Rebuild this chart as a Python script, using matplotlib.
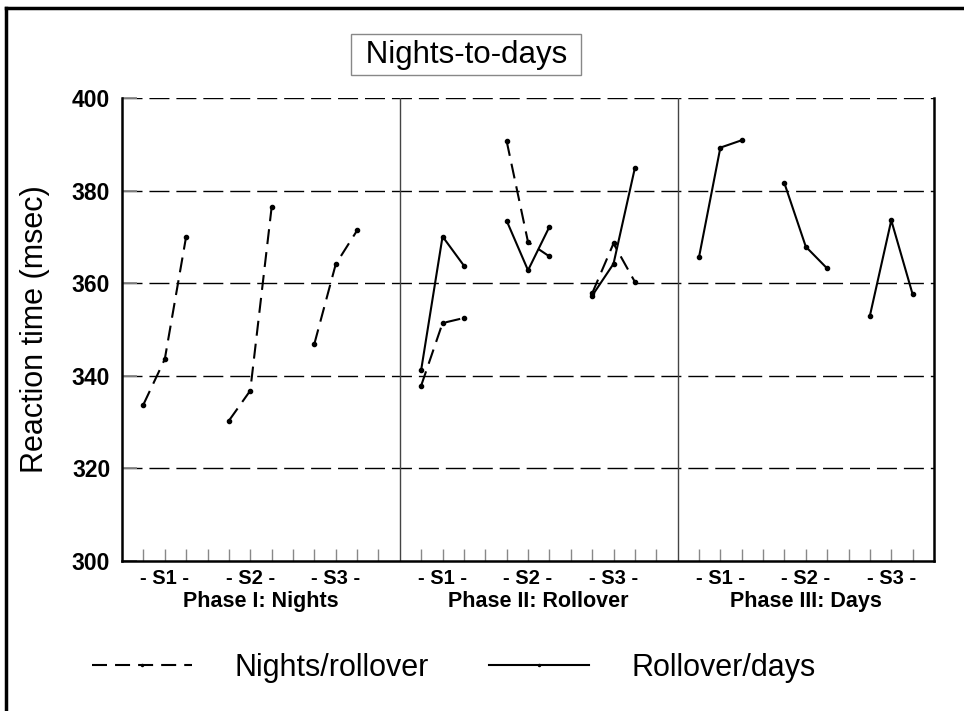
"""Nights-to-days reaction time chart across three shift phases."""

import matplotlib.pyplot as plt
from matplotlib.lines import Line2D

plt.rcParams["font.family"] = ["Liberation Sans", "DejaVu Sans"]
plt.rcParams["lines.scale_dashes"] = False

PHASES = ["Phase I: Nights", "Phase II: Rollover", "Phase III: Days"]
SESSIONS = ["- S1 -", "- S2 -", "- S3 -"]
SERIES = ["Nights/rollover", "Rollover/days"]

# reaction time (msec), three trials per session
NIGHTS_ROLLOVER = {
    0: [[333.8, 343.6, 370.1], [330.3, 336.8, 376.4], [346.9, 364.1, 371.4]],
    1: [[337.9, 351.4, 352.5], [390.7, 368.9, 365.8], [357.8, 368.6, 360.3]],
}
ROLLOVER_DAYS = {
    1: [[341.3, 370.1, 363.8], [373.5, 362.8, 372.2], [357.3, 364.2, 384.9]],
    2: [[365.6, 389.3, 390.9], [381.6, 367.9, 363.2], [353.0, 373.6, 357.6]],
}

PHASE_EDGES = [0, 13, 26, 38]
Y_TICKS = [300, 320, 340, 360, 380, 400]

DASH = (10.8, 5.8)
GRID_DASH = (14.4, 5.0)


def trial_x(phase, session):
    start = PHASE_EDGES[phase] + 1 + 4 * session
    return [start, start + 1, start + 2]


def main():
    fig = plt.figure(figsize=(9.64, 7.11), dpi=100)
    ax = fig.add_axes([0.1266, 0.211, 0.8423, 0.651])

    for phase, sessions in NIGHTS_ROLLOVER.items():
        for s, vals in enumerate(sessions):
            ax.plot(trial_x(phase, s), vals, color="black", lw=1.5,
                    dashes=DASH, marker="o", markersize=3, zorder=4)
    for phase, sessions in ROLLOVER_DAYS.items():
        for s, vals in enumerate(sessions):
            ax.plot(trial_x(phase, s), vals, color="black", lw=1.5,
                    marker="o", markersize=3, zorder=4)

    ax.set_xlim(PHASE_EDGES[0], PHASE_EDGES[-1])
    ax.set_ylim(Y_TICKS[0], Y_TICKS[-1])

    for y in Y_TICKS[1:]:
        ax.axhline(y, color="black", lw=1.0, dashes=GRID_DASH, zorder=1)
    for x in PHASE_EDGES[1:-1]:
        ax.axvline(x, color="#444444", lw=1.0, zorder=1)

    ax.set_yticks(Y_TICKS)
    ax.set_yticklabels([str(v) for v in Y_TICKS], fontsize=16.5, fontweight="bold")
    ax.tick_params(axis="y", direction="in", length=11, width=1.3,
                   color="#888888", pad=8.5)

    xt = [x for x in range(1, PHASE_EDGES[-1]) if x not in PHASE_EDGES]
    ax.set_xticks(xt)
    ax.set_xticklabels([])
    ax.tick_params(axis="x", direction="in", length=8.5, width=1.0,
                   color="#888888")

    for side in ["left", "bottom", "right"]:
        ax.spines[side].set_linewidth(1.8)
    ax.spines["top"].set_visible(False)

    trans = ax.get_xaxis_transform()
    for p, name in enumerate(PHASES):
        for s, lab in enumerate(SESSIONS):
            ax.text(trial_x(p, s)[1], -0.037, lab, transform=trans,
                    ha="center", va="center", fontsize=14.5, fontweight="bold")
        mid = (PHASE_EDGES[p] + PHASE_EDGES[p + 1]) / 2
        ax.text(mid, -0.087, name, transform=trans, ha="center",
                va="center", fontsize=15.5, fontweight="bold")

    ax.set_ylabel("Reaction time (msec)", fontsize=22, va="center")
    ax.yaxis.set_label_coords(-0.107, 0.5)

    fig.text(0.4834, 0.9233, " Nights-to-days ", ha="center", va="center",
             fontsize=22.5,
             bbox=dict(boxstyle="square,pad=0.17", facecolor="white",
                       edgecolor="#888888", lw=1.0))

    handles = [
        Line2D([], [], color="black", lw=1.5, dashes=DASH, marker="o",
               markersize=1.5),
        Line2D([], [], color="black", lw=1.5, marker="o", markersize=1.5),
    ]
    fig.legend(handles, SERIES, loc="center", bbox_to_anchor=(0.471, 0.0605),
               ncol=2, frameon=False, fontsize=22, handlelength=3.27,
               handletextpad=1.4, columnspacing=1.96, numpoints=1)

    # outer frame of the original figure (top and left edges visible)
    fig.add_artist(Line2D([0.0065, 1.0], [0.9887, 0.9887],
                          transform=fig.transFigure, color="black", lw=2.5))
    fig.add_artist(Line2D([0.0065, 0.0065], [0.0, 0.9887],
                          transform=fig.transFigure, color="black", lw=2.5))

    fig.savefig("out.png", dpi=100)


if __name__ == "__main__":
    main()
